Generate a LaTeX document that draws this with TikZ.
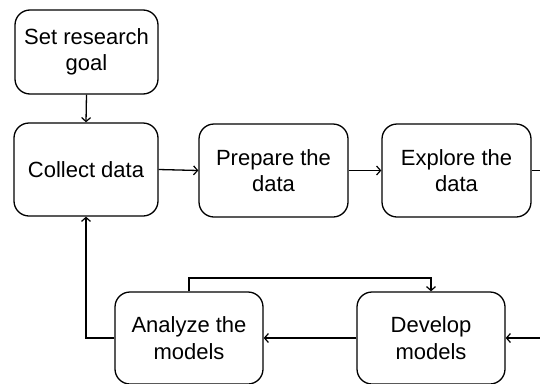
\documentclass[tikz,border=0pt]{standalone}
\usepackage{fontspec}
\setmainfont{Liberation Sans}
\usetikzlibrary{arrows.meta}
\begin{document}
\begin{tikzpicture}[x=1pt,y=-1pt,
  stepbox/.style={draw=black,line width=1.3pt,rounded corners=15pt,align=center,
    inner sep=0pt,font=\fontsize{22}{26.5}\selectfont},
  arr/.style={line width=1.3pt,-{Straight Barb[length=4pt,width=9pt,line width=1.2pt]}}]
\useasboundingbox (0,0) rectangle (540,383);
\clip (0,0) rectangle (540,383);
\node[stepbox,minimum width=143pt,minimum height=84pt] (goal) at (86.5,52) {Set research\\goal};
\node[stepbox,minimum width=144pt,minimum height=93pt] (collect) at (86,169.5) {Collect data};
\node[stepbox,minimum width=149pt,minimum height=93pt] (prepare) at (273.5,170.5) {Prepare the\\data};
\node[stepbox,minimum width=149pt,minimum height=93pt] (explore) at (456.5,170.5) {Explore the\\data};
\node[stepbox,minimum width=148pt,minimum height=92pt] (analyze) at (189,338) {Analyze the\\models};
\node[stepbox,minimum width=148pt,minimum height=92pt] (develop) at (431,338) {Develop\\models};
\draw[arr] (goal.south) -- (collect.north);
\draw[arr] (collect.east) -- (prepare.west);
\draw[arr] (prepare.east) -- (explore.west);
\coordinate (ex) at (570,170.5);
\draw[arr] (explore.east) -- (ex) |- (develop.east);
\draw[arr] (develop.west) -- (analyze.west -| analyze.east);
\draw[arr] (analyze.west) -| (collect.south);
\coordinate (top) at (189,278);
\draw[arr] (analyze.north) -- (top) -| (develop.north);
\end{tikzpicture}
\end{document}
